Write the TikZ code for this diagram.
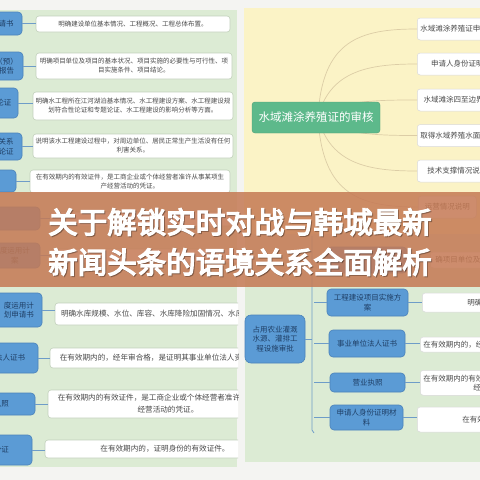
\documentclass[tikz,border=0pt]{standalone}
\usepackage{fontspec}
\setmainfont{Noto Sans CJK SC}
\newfontfamily\titlefont{Noto Sans CJK SC}[FakeBold=4.5]
\definecolor{bgc}{HTML}{F4F4F2}
\definecolor{panelg}{HTML}{DCEBD4}
\definecolor{panely}{HTML}{FBF3C6}
\definecolor{boxb}{HTML}{5B9BD5}
\definecolor{boxbd}{HTML}{4A82BA}
\definecolor{txtb}{HTML}{1F3F66}
\definecolor{wbd}{HTML}{C2D0BC}
\definecolor{linkc}{HTML}{6E9CC8}
\definecolor{rootg}{HTML}{5DB98B}
\definecolor{curvec}{HTML}{DCCDA6}
\definecolor{bannerc}{HTML}{C57A55}
\definecolor{txtg}{HTML}{4A4A4A}
\tikzset{
  bluebox/.style={draw=boxbd, fill=boxb, rounded corners=4pt, text=txtb, align=center, inner sep=1pt, line width=0.6pt, font=\fontsize{7.5}{9.5}\selectfont},
  whitebox/.style={draw=wbd, fill=white, rounded corners=3pt, text=txtg, align=center, inner sep=1pt, line width=0.6pt, font=\fontsize{6.5}{9}\selectfont},
  wbig/.style={whitebox, font=\fontsize{7.6}{12}\selectfont},
  rbox/.style={draw=black!15, fill=white, rounded corners=3pt, text=txtg, align=left, anchor=west, inner sep=3pt, line width=0.5pt, font=\fontsize{7.5}{9}\selectfont, minimum height=22pt, minimum width=80pt},
  link/.style={draw=linkc, line width=1pt},
  curve/.style={draw=curvec, line width=0.7pt},
}
\begin{document}
\begin{tikzpicture}[x=1pt,y=-1pt]
\useasboundingbox (0,0) rectangle (480,480);
\clip (0,0) rectangle (480,480);
\fill[bgc] (0,0) rectangle (480,480);

% ---------------- left photo ----------------
\begin{scope}
\clip (0,0) rectangle (238,480);
\fill[panelg] (-5,10) rectangle (237,467);
% top part
\node[bluebox, minimum width=32pt, minimum height=23pt] (lb1) at (6,23.5) {请书};
\node[whitebox, minimum width=194pt, minimum height=16pt] (w1) at (133,24) {明确建设单位基本情况、工程概况、工程总体布置。};
\node[bluebox, minimum width=33pt, minimum height=28pt] (lb2) at (6.5,66) {（预）\\报告};
\node[whitebox, minimum width=196pt, minimum height=26pt] (w2) at (134,66) {明确项目单位及项目的基本状况、项目实施的必要性与可行性、项\\目实施条件、项目结论。};
\node[bluebox, minimum width=28pt, minimum height=30pt] (lb3) at (4,103) {论证};
\node[whitebox, minimum width=200pt, minimum height=28pt] (w3) at (133,106) {明确水工程所在江河湖泊基本情况、水工程建设方案、水工程建设规\\划符合性论证和专题论证、水工程建设的影响分析等方面。};
\node[bluebox, minimum width=32pt, minimum height=27pt] (lb4) at (6,146.5) {关系\\论证};
\node[whitebox, minimum width=200pt, minimum height=24pt] (w4) at (133,146) {说明该水工程建设过程中，对周边单位、居民正常生产生活没有任何\\利害关系。};
\node[bluebox, minimum width=26pt, minimum height=22pt] (lb5) at (3,181) {};
\node[whitebox, minimum width=200pt, minimum height=23pt] (w5) at (130,181.5) {在有效期内的有效证件，是工商企业或个体经营者准许从事某项生\\产经营活动的凭证。};
% under the banner
\node[bluebox, minimum width=50pt, minimum height=23pt] (lbA) at (15,218.5) {};
\node[whitebox, minimum width=200pt, minimum height=14pt] (wA) at (150,219) {};
\node[bluebox, minimum width=50pt, minimum height=25pt] (lbB) at (15,255.5) {度运用计\\案};
\node[whitebox, minimum width=200pt, minimum height=14pt] (wB) at (150,256) {};
% lower part
\node[bluebox, minimum width=46pt, minimum height=34pt] (lb6) at (19,310) {度运用计\\划申请书};
\node[wbig, minimum width=240pt, minimum height=22pt] (w6) at (175,314) {明确水库规模、水位、库容、水库降险加固情况、水库调度运用计划};
\node[bluebox, minimum width=56pt, minimum height=30pt] (lb7) at (10,358) {法人证书};
\node[wbig, minimum width=240pt, minimum height=20pt] (w7) at (170,358) {在有效期内的，经年审合格，是证明其事业单位法人资格的证件。};
\node[bluebox, minimum width=67pt, minimum height=22pt] (lb8) at (1.5,404) {执照};
\node[wbig, minimum width=240pt, minimum height=28pt] (w8) at (168,404) {在有效期内的有效证件，是工商企业或个体经营者准许从事某项生\\经营活动的凭证。};
\node[bluebox, minimum width=61pt, minimum height=30pt] (lb9) at (1.5,450) {份证};
\node[wbig, minimum width=240pt, minimum height=18pt] (w9) at (165,449) {在有效期内的，证明身份的有效证件。};
\foreach \a/\b in {lb1/w1,lb2/w2,lb3/w3,lb4/w4,lb5/w5,lbA/wA,lbB/wB,lb6/w6,lb7/w7,lb8/w8,lb9/w9}
  \draw[link] (\a.east) -- (\a.east -| \b.west);
\end{scope}

% ---------------- right photo ----------------
\begin{scope}
\clip (244,0) rectangle (480,480);
\fill[panely] (244,8) rectangle (485,234);
\fill[panelg] (245,234) rectangle (485,462);
\coordinate (hub) at (318,117);
\node[rbox] (rb1) at (417,29) {水域滩涂养殖证申请书};
\node[rbox] (rb2) at (417,64) {申请人身份证明};
\node[rbox] (rb3) at (417,100) {水域滩涂四至边界图};
\node[rbox] (rb4) at (417,135.5) {取得水域养殖水面的证明};
\node[rbox] (rb5) at (417,171) {技术支撑情况说明};
\node[rbox, minimum width=58pt] (rb6) at (418,207) {运营情况说明};
\draw[curve] (hub) .. controls (322,40) and (360,29) .. (rb1.west);
\draw[curve] (hub) .. controls (330,70) and (370,64) .. (rb2.west);
\draw[curve] (hub) .. controls (340,100) and (380,100) .. (rb3.west);
\draw[curve] (hub) .. controls (340,135) and (380,135.5) .. (rb4.west);
\draw[curve] (hub) .. controls (330,165) and (370,171) .. (rb5.west);
\draw[curve] (hub) .. controls (322,195) and (360,207) .. (rb6.west);
\node[draw=rootg!85!black, fill=rootg, rounded corners=3pt, text=white, minimum width=128pt, minimum height=31pt, inner sep=2pt, font=\fontsize{11.5}{13}\selectfont] (root) at (316,117.5) {水域滩涂养殖证的审核};

% lower mind map
\node[bluebox, minimum width=60pt, minimum height=48pt, rounded corners=6pt] (broot) at (275,339) {占用农业灌溉\\水源、灌排工\\程设施审批};
\coordinate (br) at (312,339);
\node[bluebox, minimum width=80pt, minimum height=26pt] (c0) at (367,260) {};
\node[bluebox, minimum width=81pt, minimum height=27pt] (c1) at (367.5,302.5) {工程建设项目实施方\\案};
\node[bluebox, minimum width=76pt, minimum height=27pt] (c2) at (367,343.5) {事业单位法人证书};
\node[bluebox, minimum width=75pt, minimum height=19pt] (c3) at (367.5,382.5) {营业执照};
\node[bluebox, minimum width=73pt, minimum height=25pt] (c4) at (366.5,417.5) {申请人身份证明材\\料};
\draw[link, line width=0.8pt] (312,236) -- (312,335) -- (br) -- (312,343) -- (312,430) -- (314,433);
\draw[link] (broot.east) -- (br);
\foreach \c in {c0,c1,c2,c3,c4}
  \draw[link] (314,0 |- \c.west) -- (\c.west);
\node[rbox, minimum height=16pt, minimum width=70pt] (d0) at (430,260) {确项目单位及项目};
\node[rbox, minimum height=19pt, minimum width=70pt] (d1) at (422,302.5) {\hspace*{42pt}明确项目建设};
\node[rbox, minimum height=15pt, minimum width=70pt] (d2) at (420,344.5) {在有效期内的，经年审合格};
\node[rbox, minimum height=25pt, minimum width=70pt, anchor=north west, align=left] (d3) at (420,370) {在有效期内的有效证件\\\hspace*{50pt}经营};
\node[rbox, minimum height=25pt, minimum width=70pt] (d4) at (417,419.5) {\hspace*{42pt}在有效期内的};
\foreach \a/\b in {c0/d0,c1/d1,c2/d2,c3/d3,c4/d4}
  \draw[link] (\a.east) -- (\a.east -| \b.west);
\end{scope}

% ---------------- banner ----------------
\fill[bannerc, opacity=0.86] (0,192) rectangle (480,287);
\node[font=\titlefont\fontsize{29.5}{40}\selectfont, text=black, opacity=0.25] (t1s) at (241,223) {关于解锁实时对战与韩城最新};
\node[font=\titlefont\fontsize{29.5}{40}\selectfont, text=black, opacity=0.25] (t2s) at (241,263) {新闻头条的语境关系全面解析};
\node[font=\titlefont\fontsize{29.5}{40}\selectfont, text=white] (t1) at (240,222) {关于解锁实时对战与韩城最新};
\node[font=\titlefont\fontsize{29.5}{40}\selectfont, text=white] (t2) at (240,262) {新闻头条的语境关系全面解析};
\end{tikzpicture}
\end{document}
